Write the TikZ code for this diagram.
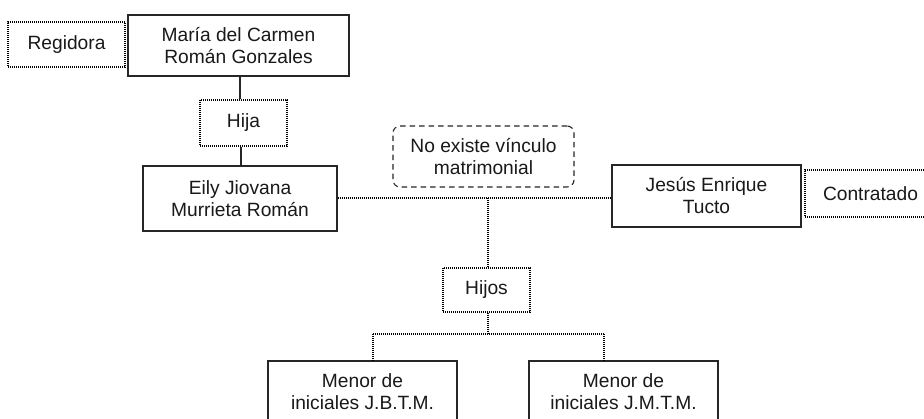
\documentclass[tikz,border=0pt]{standalone}
\usepackage{fontspec}
\setmainfont{Liberation Sans}
\begin{document}
\begin{tikzpicture}[x=1pt,y=-1pt,
  every node/.style={font=\fontsize{19.2}{22}\selectfont, text=black!90, align=center, inner sep=0pt},
  solidbox/.style={draw=black!85, line width=1.3pt, minimum width=#1},
  dotbox/.style={draw=black, line width=1.1pt, dash pattern=on 1pt off 1pt},
  dotline/.style={draw=black, line width=1.1pt, dash pattern=on 1pt off 1pt},
  solidline/.style={draw=black!85, line width=1.3pt},
  dashbox/.style={draw=black!85, line width=1.1pt, dash pattern=on 5.5pt off 4pt, rounded corners=7pt}
]
\clip (0,0) rectangle (924,419);
\fill[white] (0,0) rectangle (924,419);

\node[dotbox, minimum width=117pt, minimum height=45pt] (regidora) at (66.5,44.5) {Regidora};
\node[solidbox=221pt, minimum height=61pt] (maria) at (238.5,45.5) {María del Carmen\\Román Gonzales};
\node[dotbox, minimum width=87pt, minimum height=46pt] (hija) at (243.5,123) {Hija};
\node[solidbox=194pt, minimum height=65pt] (eily) at (240,198.5) {Eily Jiovana\\Murrieta Román};
\node[dashbox, minimum width=181pt, minimum height=61pt] (vinculo) at (483.5,156.5) {No existe vínculo\\matrimonial};
\node[solidbox=189pt, minimum height=62pt] (jesus) at (706.5,196) {Jesús Enrique\\Tucto};
\node[dotbox, minimum width=131pt, minimum height=47pt] (contratado) at (870.5,193.5) {Contratado};
\node[dotbox, minimum width=87pt, minimum height=44pt] (hijos) at (486.5,290) {Hijos};
\node[solidbox=189pt, minimum height=62pt] (hijo1) at (362.5,392) {Menor de\\iniciales J.B.T.M.};
\node[solidbox=189pt, minimum height=62pt] (hijo2) at (623.5,392) {Menor de\\iniciales J.M.T.M.};

\coordinate (junc) at (488,198);
\coordinate (bus) at (488,334);
\coordinate (busl) at (373,334);
\coordinate (busr) at (604,334);

\draw[solidline] (maria.south) ++(1.5,0) -- (hija.north -| 240,0);
\draw[solidline] (hija.south -| 241,0) -- (eily.north -| 241,0);
\draw[dotline] (eily.east |- junc) -- (jesus.west |- junc);
\draw[dotline] (junc) -- (hijos.north -| junc);
\draw[dotline] (hijos.south -| bus) -- (bus);
\draw[dotline] (busl) -- (busr);
\draw[dotline] (busl) -- (hijo1.north -| busl);
\draw[dotline] (busr) -- (hijo2.north -| busr);
\end{tikzpicture}
\end{document}
